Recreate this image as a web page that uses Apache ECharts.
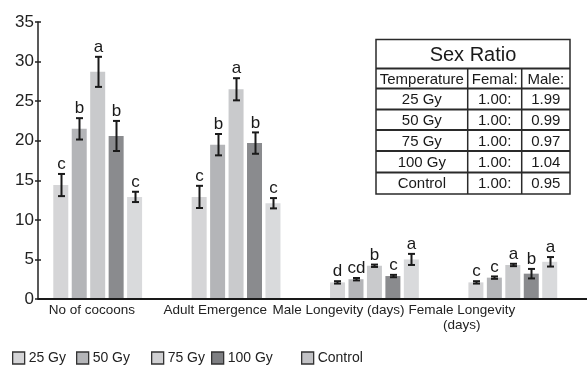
<!DOCTYPE html>
<html>
<head>
<meta charset="utf-8">
<script src="https://cdn.jsdelivr.net/npm/echarts@6/dist/echarts.min.js"></script>
<style>html,body{margin:0;padding:0;background:#fff}#c{width:587px;height:368px}</style>
</head>
<body>
<div id="c"></div>
<script>
const categories = ['No of cocoons', 'Adult Emergence', 'Male Longevity (days)', 'Female Longevity\n(days)'];
const doses = ['25 Gy', '50 Gy', '75 Gy', '100 Gy', 'Control'];
const yTicks = [0, 5, 10, 15, 20, 25, 30, 35];

const mean25 = [14.4, 12.9, 2.1, 2.1];
const mean50 = [21.5, 19.5, 2.5, 2.7];
const mean75 = [28.7, 26.5, 4.2, 4.3];
const mean100 = [20.6, 19.7, 2.9, 3.2];
const meanControl = [12.9, 12.1, 5.0, 4.7];

const err25 = [1.4, 1.4, 0.15, 0.15];
const err50 = [1.35, 1.35, 0.15, 0.15];
const err75 = [1.9, 1.4, 0.15, 0.15];
const err100 = [1.9, 1.35, 0.15, 0.6];
const errControl = [0.65, 0.65, 0.7, 0.6];

const letters25 = ['c', 'c', 'd', 'c'];
const letters50 = ['b', 'b', 'cd', 'c'];
const letters75 = ['a', 'a', 'b', 'a'];
const letters100 = ['b', 'b', 'c', 'b'];
const lettersControl = ['c', 'c', 'a', 'a'];

const tableTitle = 'Sex Ratio';
const tableHeader = ['Temperature', 'Femal:', 'Male:'];
const tableTemps = ['25 Gy', '50 Gy', '75 Gy', '100 Gy', 'Control'];
const tableFemale = ['1.00:', '1.00:', '1.00:', '1.00:', '1.00:'];
const tableMale = ['1.99', '0.99', '0.97', '1.04', '0.95'];

const means = [mean25, mean50, mean75, mean100, meanControl];
const errs = [err25, err50, err75, err100, errControl];
const letters = [letters25, letters50, letters75, letters100, lettersControl];
const colors = ['#d5d5d7', '#b4b5b8', '#c9cacc', '#8a8b8e', '#d9dadc'];
const legendColors = ['#d5d5d7', '#b4b5b8', '#d0d0d2', '#7e7f82', '#c2c2c5'];
const FONT = '"Liberation Sans", Arial, sans-serif';
const BAR_W = 15, STEP = 18.5;

const series = [];
doses.forEach((d, i) => {
  series.push({
    name: d, type: 'bar', xAxisIndex: 0, yAxisIndex: 0,
    data: means[i], barWidth: BAR_W, barGap: '23%',
    itemStyle: { color: colors[i] }, silent: true
  });
});
doses.forEach((d, i) => {
  const off = (i - 2) * STEP;
  series.push({
    type: 'custom', xAxisIndex: 0, yAxisIndex: 0, z: 5, clip: false,
    data: means[i].map((m, j) => [j, m, errs[i][j]]),
    encode: { x: 0, y: 1 },
    renderItem: function (params, api) {
      const cat = api.value(0), m = api.value(1), e = api.value(2);
      const x = Math.round(api.coord([cat, m])[0] + off) + 0.5;
      const top = api.coord([cat, m + e])[1];
      const bot = api.coord([cat, m - e])[1];
      const hw = 3.5;
      const st = { stroke: '#1a1a1a', lineWidth: 2 };
      return {
        type: 'group', children: [
          { type: 'line', shape: { x1: x, y1: top, x2: x, y2: bot }, style: st },
          { type: 'line', shape: { x1: x - hw, y1: top, x2: x + hw, y2: top }, style: st },
          { type: 'line', shape: { x1: x - hw, y1: bot, x2: x + hw, y2: bot }, style: st },
          { type: 'text', style: { text: letters[i][params.dataIndex], x: x, y: top - 1,
              textAlign: 'center', textVerticalAlign: 'bottom', align: 'center', verticalAlign: 'bottom',
              fontSize: 17, fontFamily: FONT, fill: '#1a1a1a' } }
        ]
      };
    }
  });
});

// table graphic
const tx = [376, 467.7, 521.7, 570];
const ty = [39.5, 68.5, 88.5, 109.5, 130, 151, 172.5, 194];
const tbl = [];
tbl.push({ type: 'rect', shape: { x: tx[0], y: ty[0], width: tx[3] - tx[0], height: ty[7] - ty[0] },
  style: { fill: '#fff', stroke: '#2a2a2a', lineWidth: 1.5 } });
for (let r = 1; r < 7; r++) {
  tbl.push({ type: 'line', shape: { x1: tx[0], y1: ty[r], x2: tx[3], y2: ty[r] }, style: { stroke: '#2a2a2a', lineWidth: 1.8 } });
}
for (let c = 1; c < 3; c++) {
  tbl.push({ type: 'line', shape: { x1: tx[c], y1: ty[1], x2: tx[c], y2: ty[7] }, style: { stroke: '#2a2a2a', lineWidth: 1.5 } });
}
function cellText(t, cx, cy, size) {
  return { type: 'text', style: { text: t, x: cx, y: cy, textAlign: 'center', textVerticalAlign: 'middle',
    align: 'center', verticalAlign: 'middle', fontSize: size, fontFamily: FONT, fill: '#1a1a1a' } };
}
tbl.push(cellText(tableTitle, (tx[0] + tx[3]) / 2, (ty[0] + ty[1]) / 2 + 1, 20));
tableHeader.forEach((h, c) => tbl.push(cellText(h, (tx[c] + tx[c + 1]) / 2, (ty[1] + ty[2]) / 2 + 1, 15)));
tableTemps.forEach((t, r) => {
  const cy = (ty[r + 2] + ty[r + 3]) / 2 + 1;
  tbl.push(cellText(t, (tx[0] + tx[1]) / 2, cy, 15));
  tbl.push(cellText(tableFemale[r], (tx[1] + tx[2]) / 2, cy, 15));
  tbl.push(cellText(tableMale[r], (tx[2] + tx[3]) / 2, cy, 15));
});

const legendLefts = [12, 76, 151, 211, 301];
const legends = doses.map((d, i) => ({
  data: [{ name: d, itemStyle: { color: legendColors[i] } }],
  left: legendLefts[i], top: 351, padding: 0, icon: 'rect',
  itemWidth: 12, itemHeight: 12, selectedMode: false,
  itemStyle: { borderColor: '#333', borderWidth: 1.3 },
  textStyle: { fontSize: 14, color: '#222', fontFamily: FONT, padding: [0, 0, 0, -1] }
}));

const option = {
  animation: false,
  backgroundColor: '#fff',
  textStyle: { fontFamily: FONT },
  grid: [
    { left: 28.5, right: 5, top: 22, bottom: 69 },
    { left: 30.3, right: 63.5, top: 22, bottom: 69 }
  ],
  legend: legends,
  xAxis: [
    { type: 'category', gridIndex: 0, data: categories, axisLine: { show: false }, axisTick: { show: false }, axisLabel: { show: false } },
    { type: 'category', gridIndex: 1, data: categories, axisLine: { show: false }, axisTick: { show: false },
      axisLabel: { show: true, interval: 0, margin: 4, fontSize: 13.5, lineHeight: 15, color: '#222', fontFamily: FONT } }
  ],
  yAxis: [
    { type: 'value', gridIndex: 0, position: 'left', min: yTicks[0], max: yTicks[yTicks.length - 1], interval: 5, offset: -9.5,
      axisLine: { show: true, lineStyle: { color: '#222', width: 1.5 } },
      axisTick: { show: true, length: 3, lineStyle: { color: '#222', width: 1.5 } },
      axisLabel: { fontSize: 17, color: '#222', margin: 4, fontFamily: FONT },
      splitLine: { show: false } },
    { type: 'value', gridIndex: 0, position: 'left', min: yTicks[0], max: yTicks[yTicks.length - 1], interval: 5, offset: -9.5,
      axisLine: { show: false },
      axisTick: { show: true, inside: true, length: 3, lineStyle: { color: '#222', width: 1.5 } },
      axisLabel: { show: false }, splitLine: { show: false } },
    { type: 'value', gridIndex: 1, show: false, min: 0, max: 35 }
  ],
  series: series,
  graphic: [
    { type: 'line', shape: { x1: 37.5, y1: 299, x2: 587, y2: 299 }, style: { stroke: '#1a1a1a', lineWidth: 2 }, z: 10 },
    { type: 'group', children: tbl, z: 20 }
  ]
};
const chart = echarts.init(document.getElementById('c'), null, { renderer: 'canvas' });
chart.setOption(option);
</script>
</body>
</html>
